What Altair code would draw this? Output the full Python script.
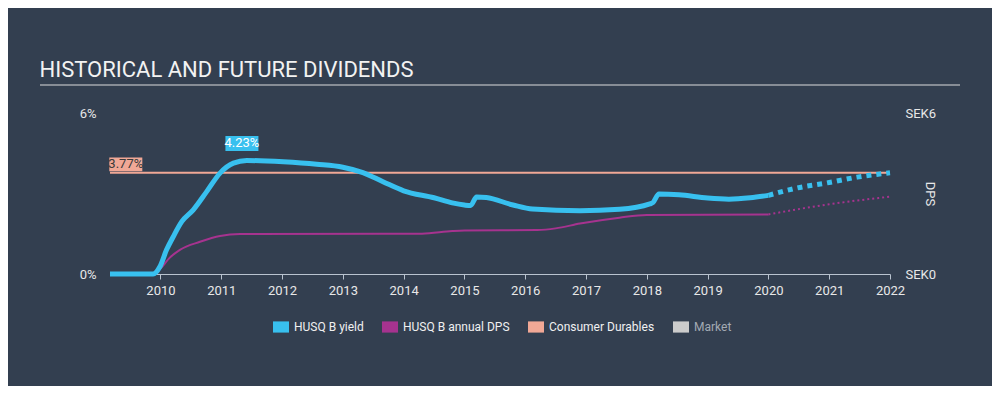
import altair as alt
import pandas as pd

# ---- data ----
series_names = ["HUSQ B yield", "HUSQ B annual DPS", "Consumer Durables", "Market"]
series_colors = ["#38c0ef", "#a6338f", "#f1a896", "#cccccc"]

yield_years = [2009.17, 2009.88, 2009.99, 2010.1, 2010.21, 2010.35, 2010.54, 2010.76,
               2010.98, 2011.2, 2011.42, 2012.02, 2012.57, 2013.0, 2013.33, 2013.66,
               2014.0, 2014.5, 2014.8, 2015.0, 2015.1, 2015.2, 2015.36, 2015.8,
               2016.12, 2016.9, 2017.55, 2018.05, 2018.1, 2018.2, 2018.53, 2019.0,
               2019.35, 2019.7, 2020.0]
yield_vals = [0.0, 0.0, 0.27, 0.9, 1.39, 1.95, 2.39, 3.07,
              3.76, 4.13, 4.23, 4.18, 4.09, 3.98, 3.78, 3.44,
              3.1, 2.84, 2.65, 2.57, 2.55, 2.87, 2.85, 2.57,
              2.42, 2.36, 2.41, 2.61, 2.66, 2.98, 2.95, 2.83,
              2.79, 2.84, 2.93]

yield_fc_years = [2020.0, 2020.46, 2021.0, 2021.46, 2022.0]
yield_fc_vals = [2.93, 3.2, 3.41, 3.61, 3.77]

dps_years = [2009.17, 2009.9, 2010.0, 2010.15, 2010.32, 2010.65, 2010.98, 2011.31,
             2014.3, 2014.8, 2015.0, 2016.2, 2016.5, 2016.9, 2017.55, 2018.0, 2020.0]
dps_vals = [0.0, 0.0, 0.2, 0.6, 0.9, 1.2, 1.42, 1.49,
            1.5, 1.6, 1.62, 1.64, 1.7, 1.88, 2.1, 2.2, 2.22]

dps_fc_years = [2020.0, 2021.0, 2022.0]
dps_fc_vals = [2.22, 2.6, 2.88]

industry_value = 3.77
x_start, x_end = 2009.17, 2022.0
year_ticks = list(range(2010, 2023))

peak_year, peak_value, peak_text = 2011.34, 4.23, "4.23%"
ind_label_year, ind_label_text = 2009.43, "3.77%"

# ---- tables ----
df_yield = pd.DataFrame({"year": yield_years, "value": yield_vals, "series": series_names[0]})
df_yield_fc = pd.DataFrame({"year": yield_fc_years, "value": yield_fc_vals, "series": series_names[0]})
df_dps = pd.DataFrame({"year": dps_years, "dps": dps_vals, "series": series_names[1]})
df_dps_fc = pd.DataFrame({"year": dps_fc_years, "dps": dps_fc_vals, "series": series_names[1]})
df_ind = pd.DataFrame({"year": [x_start], "year2": [x_end], "value": [industry_value],
                       "series": [series_names[2]]})
df_peak = pd.DataFrame({"year": [peak_year], "value": [peak_value], "label": [peak_text]})
df_ind_lab = pd.DataFrame({"year": [ind_label_year], "value": [industry_value], "label": [ind_label_text]})
df_legend = pd.DataFrame({"series": series_names})

FONT = "Roboto"
BG = "#333f50"
TXT = "#e8e8e8"

color_scale = alt.Scale(domain=series_names, range=series_colors)

X = alt.X("year:Q",
          scale=alt.Scale(domain=[x_start, x_end], nice=False, zero=False),
          axis=alt.Axis(values=year_ticks, format="d", title=None, grid=False,
                        domainColor="#b9c3cf", tickColor="#b9c3cf", tickSize=5,
                        labelColor=TXT, labelFontSize=13, labelFont=FONT,
                        labelPadding=5, labelFlush=False))

Y_left = alt.Y("value:Q",
               scale=alt.Scale(domain=[0, 6], nice=False),
               axis=alt.Axis(values=[0, 6], labelExpr="datum.value + '%'", title=None,
                             domain=False, ticks=False, grid=False, labelPadding=14,
                             labelColor=TXT, labelFontSize=13, labelFont=FONT))

Y_right = alt.Y("dps:Q",
                scale=alt.Scale(domain=[0, 6], nice=False),
                axis=alt.Axis(orient="right", values=[0, 6], labelExpr="'SEK' + datum.value",
                              title="DPS", titleAngle=90, titleX=39, titleY=80.5,
                              titleAlign="center", titleBaseline="middle",
                              titleFontWeight="normal", titleFontSize=13, titleFont=FONT,
                              titleColor=TXT, domain=False, ticks=False, grid=False,
                              labelPadding=15, labelColor=TXT, labelFontSize=13, labelFont=FONT))

legend = alt.Legend(orient="none", legendX=163, legendY=206, direction="horizontal",
                    title=None, symbolType="M-1,-0.7H1V0.7H-1Z", symbolSize=256,
                    symbolStrokeWidth=0, symbolOpacity=1, labelFontSize=12, labelFont=FONT,
                    labelColor={"expr": "datum.value === 'Market' ? '#a3aab3' : '#f0f0f0'"},
                    columnPadding=18, labelOffset=5)

C_line = alt.Color("series:N", scale=color_scale, legend=None)

yield_line = alt.Chart(df_yield).mark_line(strokeWidth=5, interpolate="monotone").encode(
    x=X, y=Y_left, color=C_line)
yield_fc = alt.Chart(df_yield_fc).mark_line(strokeWidth=5, strokeDash=[5, 5],
                                            interpolate="monotone").encode(
    x=X, y=Y_left, color=C_line)
ind_rule = alt.Chart(df_ind).mark_rule(strokeWidth=2).encode(
    x=X, x2="year2:Q", y=Y_left, color=C_line)

peak_box = alt.Chart(df_peak).mark_point(shape="M-1,-0.45H1V0.45H-1Z", size=1089, filled=True,
                                         opacity=1, color=series_colors[0], yOffset=-17).encode(
    x=X, y=Y_left)
peak_txt = alt.Chart(df_peak).mark_text(color="#ffffff", fontSize=13, font=FONT, yOffset=-17,
                                        baseline="middle").encode(x=X, y=Y_left, text="label:N")
ind_box = alt.Chart(df_ind_lab).mark_point(shape="M-1,-0.42H1V0.42H-1Z", size=1089, filled=True,
                                           opacity=1, color=series_colors[2], yOffset=-8.5).encode(
    x=X, y=Y_left)
ind_txt = alt.Chart(df_ind_lab).mark_text(color="#3a3a3a", fontSize=13, font=FONT, yOffset=-8.5,
                                          baseline="middle").encode(x=X, y=Y_left, text="label:N")

# invisible marks; only provide the legend
legend_layer = alt.Chart(df_legend).mark_point(filled=True, opacity=0, size=0).encode(
    fill=alt.Fill("series:N", scale=alt.Scale(domain=series_names, range=series_colors),
                  legend=legend))

underline = alt.Chart(df_peak).mark_rule(color="#dcdcdc", strokeWidth=1).encode(
    x=alt.value(-70), x2=alt.value(850), y=alt.value(-28))

dps_line = alt.Chart(df_dps).mark_line(strokeWidth=2, interpolate="monotone").encode(
    x=X, y=Y_right, color=C_line)
dps_fc = alt.Chart(df_dps_fc).mark_line(strokeWidth=2, strokeDash=[2, 3],
                                        interpolate="monotone").encode(
    x=X, y=Y_right, color=C_line)

left_group = alt.layer(ind_rule, yield_line, yield_fc, underline,
                       ind_box, ind_txt, peak_box, peak_txt)
right_group = alt.layer(dps_line, dps_fc)

chart = alt.layer(legend_layer, right_group, left_group).resolve_scale(y="independent").properties(
    width=780, height=161,
    padding={"left": 102, "top": 105, "right": 102, "bottom": 112},
    autosize=alt.AutoSizeParams(type="none"),
    background=BG,
    title=alt.TitleParams("HISTORICAL AND FUTURE DIVIDENDS", anchor="start", dx=0, dy=20,
                          fontSize=22, font=FONT, fontWeight="normal", color="#f2f2f2",
                          baseline="alphabetic", offset=6),
).configure_view(stroke=None)

chart.save("out.html", embed_options={"renderer": "svg", "actions": False})
